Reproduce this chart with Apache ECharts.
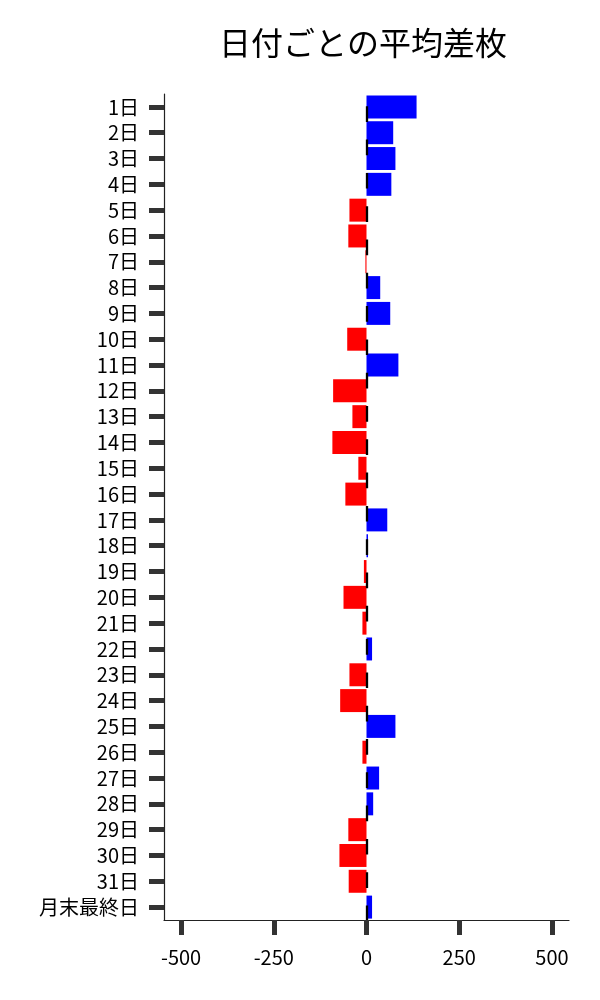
<!DOCTYPE html>
<html>
<head>
<meta charset="utf-8">
<script src="https://cdn.jsdelivr.net/npm/echarts@6/dist/echarts.min.js"></script>
<style>html,body{margin:0;padding:0;background:#fff}#c{width:600px;height:1000px}</style>
</head>
<body>
<div id="c"></div>
<script>
const categories = ['1日','2日','3日','4日','5日','6日','7日','8日','9日','10日','11日','12日','13日','14日','15日','16日','17日','18日','19日','20日','21日','22日','23日','24日','25日','26日','27日','28日','29日','30日','31日','月末最終日'];
const values = [135,72,78,67,-46,-49,-3,37,64,-52,86,-90,-38,-92,-22,-57,56,4,-7,-62,-11,15,-46,-71,78,-11,34,18,-49,-73,-48,15];
const xTicks = [-500,-250,0,250,500];
const titleText = '日付ごとの平均差枚';

const FONT = '"Noto Sans CJK JP", "Noto Sans", sans-serif';
const chart = echarts.init(document.getElementById('c'), null, {renderer: 'canvas'});
chart.setOption({
  animation: false,
  backgroundColor: '#fff',
  title: {
    text: titleText,
    left: 214,
    top: 22,
    textStyle: {fontFamily: FONT, fontSize: 32, fontWeight: 'normal', color: '#000'}
  },
  grid: {left: 164, right: 31, top: 94, height: 826, containLabel: false},
  xAxis: {
    type: 'value',
    min: -546, max: 546,
    axisLine: {show: true, onZero: false, lineStyle: {color: '#222', width: 1.2}},
    axisTick: {show: true, length: 15, customValues: xTicks, lineStyle: {color: '#333', width: 5}},
    axisLabel: {customValues: xTicks, margin: 27, fontFamily: FONT, fontSize: 20, color: '#000'},
    splitLine: {show: false}
  },
  yAxis: {
    type: 'category',
    data: categories,
    inverse: true,
    axisLine: {show: true, onZero: false, lineStyle: {color: '#222', width: 1.2}},
    axisTick: {show: true, interval: 0, alignWithLabel: true, length: 15, lineStyle: {color: '#333', width: 5}},
    axisLabel: {interval: 0, margin: 25, fontFamily: FONT, fontSize: 20, color: '#000'},
    splitLine: {show: false}
  },
  series: [{
    type: 'bar',
    data: values.map(v => ({value: v, itemStyle: {color: v >= 0 ? '#0000ff' : '#ff0000'}})),
    barCategoryGap: '11%',
    markLine: {
      silent: true,
      symbol: 'none',
      z: 10,
      label: {show: false},
      lineStyle: {color: '#000', width: 2.3, type: [15.7, 17.6], dashOffset: 21},
      data: [{xAxis: 0}]
    }
  }]
});
</script>
</body>
</html>
